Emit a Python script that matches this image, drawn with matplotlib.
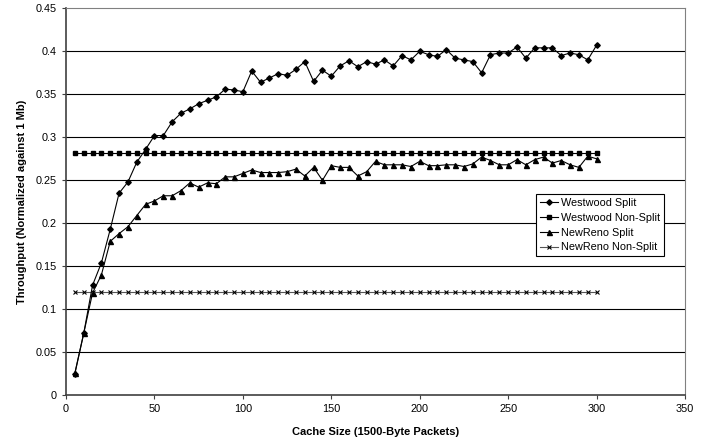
import matplotlib.pyplot as plt
import numpy as np

plt.rcParams['font.family'] = ['Liberation Sans', 'DejaVu Sans']

# cache sizes in packets
cache = list(range(5, 301, 5))

westwood_split = [0.025, 0.072, 0.128, 0.154, 0.193, 0.235, 0.248, 0.271, 0.286, 0.302,
                  0.302, 0.318, 0.328, 0.333, 0.339, 0.343, 0.347, 0.356, 0.355, 0.353,
                  0.377, 0.364, 0.369, 0.374, 0.372, 0.379, 0.388, 0.365, 0.378, 0.371,
                  0.383, 0.389, 0.382, 0.388, 0.385, 0.390, 0.383, 0.395, 0.390, 0.400,
                  0.396, 0.394, 0.402, 0.392, 0.390, 0.388, 0.375, 0.396, 0.398, 0.398,
                  0.405, 0.392, 0.404, 0.404, 0.404, 0.395, 0.398, 0.396, 0.390, 0.407]
westwood_nonsplit = [0.282] * len(cache)
newreno_split = [0.026, 0.072, 0.119, 0.140, 0.179, 0.188, 0.196, 0.209, 0.222, 0.226,
                 0.232, 0.232, 0.238, 0.247, 0.242, 0.247, 0.246, 0.254, 0.254, 0.258,
                 0.262, 0.259, 0.259, 0.259, 0.260, 0.263, 0.255, 0.265, 0.250, 0.267,
                 0.265, 0.265, 0.255, 0.260, 0.272, 0.268, 0.268, 0.268, 0.266, 0.272,
                 0.267, 0.267, 0.268, 0.268, 0.266, 0.269, 0.277, 0.273, 0.268, 0.268,
                 0.274, 0.268, 0.274, 0.277, 0.270, 0.273, 0.268, 0.265, 0.278, 0.275]
newreno_nonsplit = [0.12] * len(cache)

x_ticks = [0, 50, 100, 150, 200, 250, 300, 350]
y_ticks = [0, 0.05, 0.1, 0.15, 0.2, 0.25, 0.3, 0.35, 0.4, 0.45]
y_tick_labels = ['0', '0.05', '0.1', '0.15', '0.2', '0.25', '0.3', '0.35', '0.4', '0.45']

fig = plt.figure(figsize=(7.1, 4.43), dpi=100)
ax = fig.add_axes([0.093, 0.1077, 0.8718, 0.8736])

for y in y_ticks[1:-1]:
    ax.axhline(y, color='black', linewidth=0.8, zorder=1)

ax.plot(cache, westwood_split, color='black', linewidth=0.8, marker='D', markersize=2.8,
        label='Westwood Split', zorder=4)
ax.plot(cache, westwood_nonsplit, color='black', linewidth=0.8, marker='s', markersize=3.0,
        label='Westwood Non-Split', zorder=3)
ax.plot(cache, newreno_split, color='black', linewidth=0.8, marker='^', markersize=3.6,
        label='NewReno Split', zorder=3)
ax.plot(cache, newreno_nonsplit, color='#555555', linewidth=0.8, marker='x', markersize=3.0,
        markeredgewidth=0.8, markeredgecolor='black', label='NewReno Non-Split', zorder=3)

ax.set_xlim(0, 350)
ax.set_ylim(0, 0.45)
ax.set_xticks(x_ticks)
ax.set_yticks(y_ticks)
ax.set_yticklabels(y_tick_labels)
ax.tick_params(axis='both', labelsize=7.8, length=3, width=0.8, color='#404040', direction='out')

for side in ['left', 'bottom']:
    ax.spines[side].set_color('#404040')
    ax.spines[side].set_linewidth(1.2)
for side in ['top', 'right']:
    ax.spines[side].set_color('#808080')
    ax.spines[side].set_linewidth(0.8)

ax.set_xlabel('Cache Size (1500-Byte Packets)', fontsize=8, fontweight='bold', labelpad=9)
ax.set_ylabel('Throughput (Normalized against 1 Mb)', fontsize=8, fontweight='bold', labelpad=6)

leg = ax.legend(loc='upper left', bbox_to_anchor=(0.759, 0.52), fontsize=7.8,
                frameon=True, fancybox=False, edgecolor='black', framealpha=1,
                borderpad=0.35, labelspacing=0.45, handlelength=1.7, handletextpad=0.3,
                borderaxespad=0)
leg.get_frame().set_linewidth(0.8)

fig.savefig('out.png', dpi=100)
